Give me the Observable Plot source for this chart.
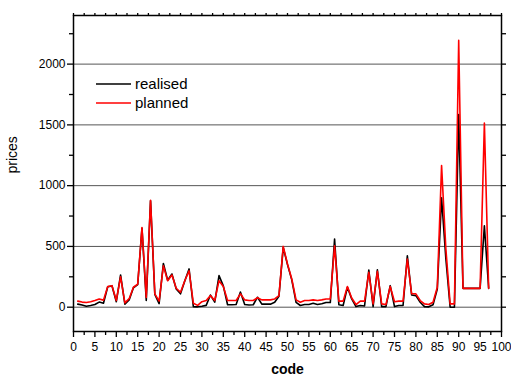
<!DOCTYPE html>
<html>
<head>
<meta charset="utf-8">
<script src="https://cdn.jsdelivr.net/npm/d3@7"></script>
<script src="https://cdn.jsdelivr.net/npm/@observablehq/plot@0.6"></script>
<style>
  html, body { margin: 0; padding: 0; background: #fff; }
  #chart { position: relative; width: 511px; height: 376px; }
</style>
</head>
<body>
<div id="chart"></div>
<script>
const codes = d3.range(1, 98);
const planned = [
  50, 42, 38, 45, 55, 68, 58, 170, 177, 55,
  250, 35, 70, 164, 190, 655, 80, 880, 110, 50,
  340, 218, 265, 156, 123, 218, 300, 33, 15, 45,
  55, 95, 55, 218, 170, 55, 55, 55, 110, 60,
  55, 55, 78, 60, 60, 60, 68, 95, 500, 355,
  232, 60, 41, 55, 55, 60, 55, 60, 68, 68,
  505, 50, 50, 170, 76, 22, 50, 50, 287, 27,
  295, 27, 22, 170, 45, 50, 50, 396, 110, 110,
  55, 27, 22, 41, 164, 1165, 480, 27, 27, 2195,
  155, 155, 155, 155, 155, 1516, 155
];
const realised = [
  25, 18, 8, 14, 22, 42, 33, 168, 175, 45,
  265, 25, 60, 160, 185, 650, 55, 875, 105, 30,
  360, 222, 273, 150, 110, 215, 315, 5, 3, 8,
  15, 100, 41, 260, 175, 20, 20, 22, 125, 22,
  18, 20, 82, 25, 25, 25, 40, 90, 490, 350,
  225, 40, 14, 22, 22, 32, 22, 28, 38, 38,
  560, 20, 14, 164, 68, 5, 14, 10, 306, 5,
  308, 5, 5, 177, 5, 14, 14, 423, 101, 95,
  41, 5, 3, 20, 150, 900, 400, 0, 0, 1585,
  155, 155, 155, 155, 155, 670, 155
];
const xMajorTicks = d3.range(0, 101, 5);
const xMinorTicks = d3.range(2.5, 100, 5);
const xAllTicks = d3.range(0, 100.01, 2.5);
const yMajorTicks = [0, 500, 1000, 1500, 2000];
const yMinorTicks = [250, 750, 1250, 1750, 2250];
const yAllTicks = d3.range(0, 2251, 250);
const seriesNames = ["realised", "planned"];
const seriesColors = ["#000000", "#ff0000"];

const data = codes.map((c, i) => ({code: c, realised: realised[i], planned: planned[i]}));
const blank = () => "";

const chart = Plot.plot({
  width: 511,
  height: 376,
  marginLeft: 73,
  marginRight: 10,
  marginTop: 15,
  marginBottom: 45,
  style: {fontFamily: "'Liberation Sans', Arial, sans-serif", fontSize: "12px", color: "#000", background: "#fff"},
  x: {domain: [0, 100]},
  y: {domain: [-200, 2400]},
  marks: [
    Plot.ruleY(yMajorTicks, {stroke: "#555", strokeWidth: 1}),
    Plot.line(data, {x: "code", y: "realised", stroke: seriesColors[0], strokeWidth: 1.6}),
    Plot.line(data, {x: "code", y: "planned", stroke: seriesColors[1], strokeWidth: 1.6}),
    Plot.frame({stroke: "#000", strokeWidth: 1.5}),
    Plot.axisX(xMajorTicks, {anchor: "bottom", tickSize: 6, tickPadding: 5, tickFormat: d3.format("d"), label: null, strokeWidth: 1.3}),
    Plot.axisX(xMinorTicks, {anchor: "bottom", tickSize: 4, tickFormat: blank, label: null, strokeWidth: 1.3}),
    Plot.axisX(xAllTicks, {anchor: "top", tickSize: 3, tickFormat: blank, label: null, strokeWidth: 1.3}),
    Plot.axisY(yMajorTicks, {anchor: "left", tickSize: 6, tickPadding: 2, tickFormat: d3.format("d"), label: null, strokeWidth: 1.3}),
    Plot.axisY(yMinorTicks, {anchor: "left", tickSize: 4, tickFormat: blank, label: null, strokeWidth: 1.3}),
    Plot.axisY(yAllTicks, {anchor: "right", tickSize: 4, tickFormat: blank, label: null, strokeWidth: 1.3}),
    Plot.text(["code"], {frameAnchor: "bottom", dy: 42, fontWeight: "bold", fontSize: 14}),
    Plot.text(["prices"], {frameAnchor: "left", dx: -61, rotate: -90, fontSize: 14})
  ]
});

// legend
const svg = d3.select(chart);
const lg = svg.append("g")
  .attr("font-family", "'Liberation Sans', Arial, sans-serif")
  .attr("font-size", 15)
  .attr("text-anchor", "start");
seriesNames.forEach((name, i) => {
  const y = 84 + i * 19;
  lg.append("line").attr("x1", 96).attr("x2", 131).attr("y1", y).attr("y2", y)
    .attr("stroke", seriesColors[i]).attr("stroke-width", 1.6);
  lg.append("text").attr("x", 135).attr("y", y).attr("dy", "0.35em").attr("text-anchor", "start").text(name);
});

document.getElementById("chart").appendChild(chart);
</script>
</body>
</html>
